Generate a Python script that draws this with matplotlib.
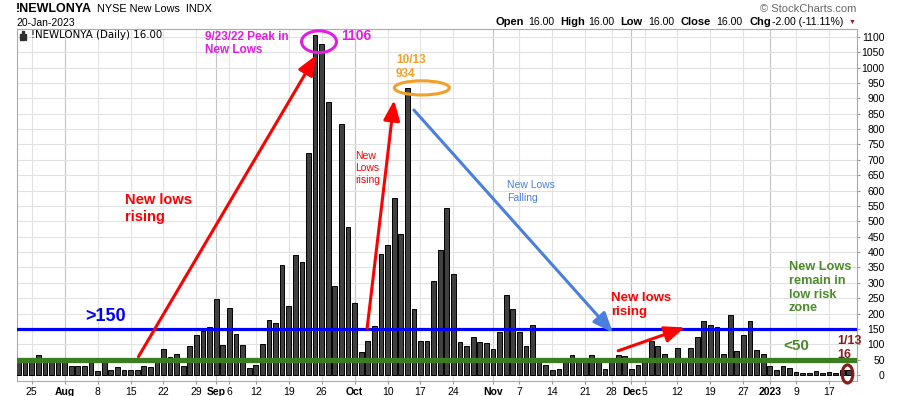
import matplotlib.pyplot as plt
import pandas as pd
from matplotlib.patches import Ellipse, Rectangle

plt.rcParams['font.family'] = ['Liberation Sans', 'DejaVu Sans']

# trading days shown on the chart
HOLIDAYS = ['2022-09-05', '2022-11-24', '2022-12-26', '2023-01-02', '2023-01-16']
days = pd.bdate_range('2022-07-21', '2023-01-20')
days = days[~days.isin(pd.to_datetime(HOLIDAYS))]

# daily NYSE new lows
jul = [48, 48, 46, 65, 50, 50, 50]
aug = [50, 29, 30, 30, 48, 13, 50, 18, 25, 18, 15, 15, 29, 25, 48, 84, 59, 70,
       29, 94, 132, 145, 156]
sep = [246, 97, 217, 134, 98, 24, 32, 102, 178, 171, 358, 224, 390, 368, 722,
       1106, 1076, 889, 290, 816, 481]
oct_ = [234, 75, 112, 159, 393, 422, 575, 458, 934, 214, 112, 110, 306, 406,
        542, 328, 109, 94, 124, 109, 103]
nov = [84, 140, 260, 214, 140, 94, 162, 48, 32, 18, 21, 48, 65, 48, 48, 65, 48,
       21, 48, 65, 62]
dec = [19, 32, 48, 110, 96, 67, 56, 87, 48, 87, 124, 176, 163, 158, 67, 197, 78,
       132, 176, 80, 67]
jan = [31, 16, 31, 22, 10, 7, 7, 12, 8, 10, 8, 18, 16]
new_lows = jul + aug + sep + oct_ + nov + dec + jan
assert len(new_lows) == len(days)

HIGH_LEVEL = 150
LOW_LEVEL = 50

fig = plt.figure(figsize=(9, 3.96), dpi=100)
ax = fig.add_axes([17 / 900, 15 / 396, 840 / 900, 352 / 396])

x = list(range(len(days)))
ax.bar(x, new_lows, width=0.72, color='#404040', edgecolor='black',
       linewidth=0.7, zorder=3)

ax.set_xlim(-0.23, 127.24)
ax.set_ylim(-19.2, 1125.5)

# x ticks: first trading day of each week, month names at month starts
month_pos = [i for i in range(1, len(days)) if days[i].month != days[i - 1].month]
tick_pos, tick_lab = [], []
for i, d in enumerate(days):
    if i == 0:
        continue
    prev = days[i - 1]
    if i in month_pos:
        tick_pos.append(i)
        tick_lab.append('2023' if d.month == 1 else d.strftime('%b'))
    elif d.weekday() <= prev.weekday() and (i + 1) not in month_pos:
        tick_pos.append(i)
        tick_lab.append(str(d.day))
ax.set_xticks(tick_pos)
ax.set_xticklabels(tick_lab, fontsize=7.5)
for pos, lab in zip(tick_pos, ax.get_xticklabels()):
    if pos in month_pos:
        lab.set_fontweight('bold')

for pos in tick_pos:
    ax.axvline(pos, color='#c4c4c4' if pos in month_pos else '#e2e2e2',
               lw=0.8, zorder=1)

yt = list(range(0, 1101, 50))
ax.set_yticks(yt)
for v in yt:
    ax.axhline(v, color='#e2e2e2', lw=0.8, zorder=1)
ax.yaxis.tick_right()
ax.tick_params(axis='y', length=2, pad=18, labelsize=7.5, color='#999999')
for lab in ax.get_yticklabels():
    lab.set_horizontalalignment('right')
ax.tick_params(axis='x', length=2, pad=2, color='#999999')
for s in ax.spines.values():
    s.set_color('#aaaaaa')

# reference levels
ax.axhline(HIGH_LEVEL, color='#0000ff', lw=2.3, zorder=4)
ax.axhline(LOW_LEVEL, color='#3d7d22', lw=3.8, zorder=4)

# header
fig.text(16 / 900, 1 - 9 / 396, '!NEWLONYA', fontsize=9, fontweight='bold', va='center')
fig.text(97 / 900, 1 - 9 / 396, 'NYSE New Lows  INDX', fontsize=7.8, va='center')
fig.text(16 / 900, 1 - 22.5 / 396, '20-Jan-2023', fontsize=7.5, va='center')
fig.text(856 / 900, 1 - 9 / 396, '\u00a9 StockCharts.com', fontsize=8,
         color='#666666', ha='right', va='center')
hdr = [(495.7, 'Open', True), (528, '16.00', False), (560.7, 'High', True),
       (588, '16.00', False), (620.7, 'Low', True), (648, '16.00', False),
       (680.7, 'Close', True), (716, '16.00', False), (749, 'Chg', True),
       (771.7, '-2.00 (-11.11%)', False)]
for px, s, b in hdr:
    fig.text(px / 900, 1 - 22 / 396, s, fontsize=8 if b else 7.6,
             fontweight='bold' if b else 'normal', va='center')
fig.text(852.5 / 900, 1 - 22 / 396, '\u25bc', fontsize=5, color='#a0102a',
         ha='center', va='center')

# legend line inside the plot
for i, h in enumerate([5, 8, 6]):
    fig.add_artist(Rectangle(((20 + i * 2.3) / 900, 1 - 39.5 / 396), 1.8 / 900,
                             h / 396, color='#303030', transform=fig.transFigure))
fig.text(31 / 900, 1 - 35.5 / 396, '!NEWLONYA (Daily) 16.00', fontsize=7.4,
         family='DejaVu Sans', va='center')

# annotations
MAG = '#e01ee0'
ORA = '#f0a028'
RED = '#ff0000'
GRN = '#4b8b2b'
ax.text(28.3, 1119, '9/23/22 Peak in\nNew Lows', color=MAG, fontsize=8.5,
        fontweight='bold', va='top', linespacing=1.15, zorder=6)
ax.text(49.0, 1103, '1106', color=MAG, fontsize=10, fontweight='bold',
        va='center', zorder=6)
ax.add_patch(Ellipse((45.6, 1084), 5.3, 71, fill=False, ec=MAG, lw=2.2, zorder=6))
ax.text(57.3, 1044, '10/13\n934', color=ORA, fontsize=8.5, fontweight='bold',
        va='top', linespacing=1.2, zorder=6)
ax.add_patch(Ellipse((61.2, 934), 8.35, 46, fill=False, ec=ORA, lw=2.2, zorder=6))

arrow = dict(arrowstyle='-|>,head_length=1.1,head_width=0.45', lw=2.2,
             shrinkA=0, shrinkB=0, mutation_scale=11)
ax.annotate('', xy=(45.2, 1041), xytext=(18.2, 60),
            arrowprops=dict(arrow, color=RED), zorder=6)
ax.annotate('', xy=(57.0, 894), xytext=(52.9, 152),
            arrowprops=dict(arrow, color=RED), zorder=6)
ax.annotate('', xy=(90.2, 138), xytext=(60.0, 862),
            arrowprops=dict(arrow, color='#4a7fe0'), zorder=6)
ax.annotate('', xy=(101.1, 155), xytext=(91.0, 79),
            arrowprops=dict(arrow, color=RED), zorder=6)

ax.text(16.2, 592, 'New lows\nrising', color=RED, fontsize=10.5,
        fontweight='bold', va='top', linespacing=1.3, zorder=6)
ax.text(51.1, 729, 'New\nLows\nrising', color=RED, fontsize=7.5, va='top',
        linespacing=1.25, zorder=6)
ax.text(74.2, 634, 'New Lows\nFalling', color='#4a7fe0', fontsize=7.5,
        va='top', linespacing=1.35, zorder=6)
ax.text(89.9, 270, 'New lows\nrising', color=RED, fontsize=9.5,
        fontweight='bold', va='top', linespacing=1.25, zorder=6)
ax.text(10.2, 192, '>150', color='#0000ff', fontsize=13, fontweight='bold',
        va='center', zorder=6)
ax.text(116.9, 371, 'New Lows\nremain in\nlow risk\nzone', color=GRN,
        fontsize=9.2, fontweight='bold', va='top', linespacing=1.2, zorder=6)
ax.text(116.0, 96, '<50', color=GRN, fontsize=11, fontweight='bold',
        va='center', zorder=6)
ax.text(124.2, 130, '1/13\n16', color='#8b1a1a', fontsize=9, fontweight='bold',
        va='top', linespacing=1.25, zorder=6, clip_on=False)
ax.add_patch(Ellipse((125.8, 3.6), 1.62, 59, fill=False, ec='#8b1a1a', lw=2.2,
                     zorder=6, clip_on=False))

fig.savefig('out.png', dpi=100)
